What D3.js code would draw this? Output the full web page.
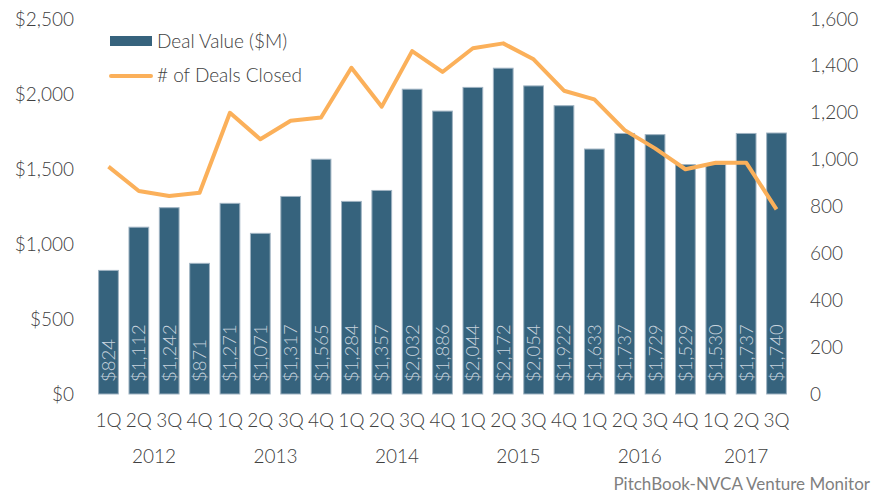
<!DOCTYPE html>
<html>
<head>
<meta charset="utf-8">
<script src="https://cdn.jsdelivr.net/npm/d3@7"></script>
<style>
  body { margin: 0; background: #fff; }
  text { font-family: Lato, "Open Sans", sans-serif; }
</style>
</head>
<body>
<svg></svg>
<script>
var quarters = ["1Q","2Q","3Q","4Q","1Q","2Q","3Q","4Q","1Q","2Q","3Q","4Q","1Q","2Q","3Q","4Q","1Q","2Q","3Q","4Q","1Q","2Q","3Q"];
var years = ["2012","2013","2014","2015","2016","2017"];
var dealValue = [824,1112,1242,871,1271,1071,1317,1565,1284,1357,2032,1886,2044,2172,2054,1922,1633,1737,1729,1529,1530,1737,1740];
var dealCount = [970,866,845,859,1200,1087,1166,1180,1392,1226,1463,1374,1475,1496,1428,1294,1257,1126,1048,959,987,987,788];
var leftTicks = [0,500,1000,1500,2000,2500];
var rightTicks = [0,200,400,600,800,1000,1200,1400,1600];

var width = 880, height = 496;
var svg = d3.select("svg")
    .attr("width", width)
    .attr("height", height);

var idx = d3.range(dealValue.length);

var x = d3.scaleBand()
    .domain(idx)
    .range([93.3, 791.7])
    .paddingInner(0.35)
    .paddingOuter(0.175);

var yL = d3.scaleLinear().domain([0, 2500]).range([394, 19]);
var yR = d3.scaleLinear().domain([0, 1600]).range([394, 19]);

var fmtL = function(d) { return "$" + d3.format(",")(d); };
var labelSize = 19;

// left axis labels
var axL = svg.append("g")
    .attr("transform", "translate(74,0)")
    .call(d3.axisLeft(yL).tickValues(leftTicks).tickSize(0).tickPadding(0).tickFormat(fmtL));
axL.select(".domain").remove();
axL.selectAll("text")
    .attr("font-size", labelSize)
    .attr("font-weight", 300)
    .attr("fill", "#404040")
    .attr("font-family", "Lato, sans-serif");

// right axis labels
var axR = svg.append("g")
    .attr("transform", "translate(810,0)")
    .call(d3.axisRight(yR).tickValues(rightTicks).tickSize(0).tickPadding(0).tickFormat(d3.format(",")));
axR.select(".domain").remove();
axR.selectAll("text")
    .attr("font-size", labelSize)
    .attr("font-weight", 300)
    .attr("fill", "#404040")
    .attr("font-family", "Lato, sans-serif");

// bars
svg.append("g")
    .selectAll("rect")
    .data(idx)
    .enter().append("rect")
    .attr("x", function(i) { return x(i); })
    .attr("width", x.bandwidth())
    .attr("y", function(i) { return yL(dealValue[i]); })
    .attr("height", function(i) { return yL(0) - yL(dealValue[i]); })
    .attr("fill", "#36637d")
    .attr("stroke", "#9fb3c2")
    .attr("stroke-width", 1);

// bar labels
svg.append("g")
    .selectAll("text")
    .data(idx)
    .enter().append("text")
    .attr("transform", function(i) {
        return "translate(" + (x(i) + x.bandwidth() / 2 + 6.5) + "," + (yL(0) - 12) + ") rotate(-90)";
    })
    .attr("font-size", 18.5)
    .attr("font-weight", 300)
    .attr("fill", "#c9d4dd")
    .text(function(i) { return fmtL(dealValue[i]); });

// line
var line = d3.line()
    .x(function(i) { return x(i) + x.bandwidth() / 2; })
    .y(function(i) { return yR(dealCount[i]); });

svg.append("path")
    .datum(idx)
    .attr("d", line)
    .attr("fill", "none")
    .attr("stroke", "#fbb05a")
    .attr("stroke-width", 4)
    .attr("stroke-linejoin", "round");

// quarter labels
svg.append("g")
    .selectAll("text")
    .data(idx)
    .enter().append("text")
    .attr("x", function(i) { return x(i) + x.bandwidth() / 2; })
    .attr("y", 427)
    .attr("text-anchor", "middle")
    .attr("font-size", labelSize)
    .attr("font-weight", 300)
    .attr("fill", "#404040")
    .text(function(i) { return quarters[i]; });

// year labels
svg.append("g")
    .selectAll("text")
    .data(years)
    .enter().append("text")
    .attr("x", function(d, k) {
        var first = k * 4, last = Math.min(k * 4 + 3, idx.length - 1);
        return (x(first) + x(last) + x.bandwidth()) / 2;
    })
    .attr("y", 463)
    .attr("text-anchor", "middle")
    .attr("font-size", labelSize)
    .attr("font-weight", 300)
    .attr("fill", "#404040")
    .text(function(d) { return d; });

// legend
var legend = svg.append("g");
legend.append("rect")
    .attr("x", 110).attr("y", 36).attr("width", 42).attr("height", 10)
    .attr("fill", "#36637d");
legend.append("text")
    .attr("x", 157).attr("y", 48)
    .attr("font-size", labelSize).attr("font-weight", 300).attr("fill", "#404040")
    .text("Deal Value ($M)");
legend.append("line")
    .attr("x1", 111).attr("x2", 151).attr("y1", 76).attr("y2", 76)
    .attr("stroke", "#fbb05a").attr("stroke-width", 4).attr("stroke-linecap", "round");
legend.append("text")
    .attr("x", 157).attr("y", 82)
    .attr("font-size", labelSize).attr("font-weight", 300).attr("fill", "#404040")
    .text("# of Deals Closed");

// source
svg.append("text")
    .attr("x", 870).attr("y", 490)
    .attr("text-anchor", "end")
    .attr("font-size", 17)
    .attr("fill", "#7f7f7f")
    .text("PitchBook-NVCA Venture Monitor");
</script>
</body>
</html>
